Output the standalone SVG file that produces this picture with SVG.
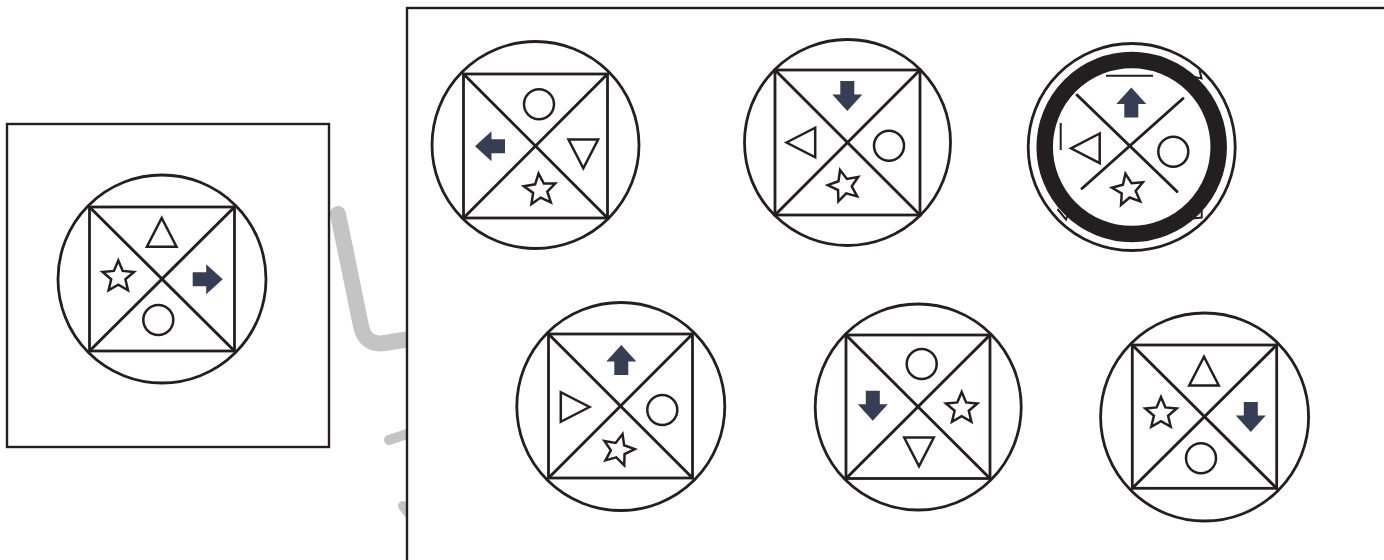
<svg xmlns="http://www.w3.org/2000/svg" xmlns:xlink="http://www.w3.org/1999/xlink" width="1384" height="560" viewBox="0 0 1384 560">
<style>
.frame{fill:#fff;stroke:#231f20;stroke-width:2.4}
.ring{fill:none;stroke:#231f20;stroke-width:2.8}
.sq{fill:none;stroke:#231f20;stroke-width:2.8}
.dg{stroke:#231f20;stroke-width:3;stroke-linecap:round}
.ol{fill:none;stroke:#231f20;stroke-width:2.5;stroke-linejoin:miter}
.arr{fill:#373d52}
.tick{fill:none;stroke:#231f20;stroke-width:2}
.wm{fill:none;stroke:#c4c4c4;stroke-linecap:round;stroke-linejoin:round}
</style>
<defs>
<path id="star" d="M0,-16.5 L4.4,-6.1 L15.7,-5.1 L7.1,2.3 L9.7,13.3 L0,7.6 L-9.7,13.3 L-7.1,2.3 L-15.7,-5.1 L-4.4,-6.1 Z"/>
<path id="tri" d="M0,-14.5 L14.8,14.2 L-14.8,14.2 Z"/>
<path id="arrow" d="M0,-15 L15,1.5 L7,1.5 L7,15 L-7,15 L-7,1.5 L-15,1.5 Z"/>
</defs>

<g id="watermark">
<path class="wm" stroke-width="16" stroke-linecap="butt" d="M338,214 L361,326 Q365,346 385,343 L410,339"/>
<path class="wm" stroke-width="10" d="M389,440 L410,433"/>
<path class="wm" stroke-width="10" d="M403,506 L410,515"/>
</g>

<rect id="given-frame" class="frame" x="7" y="124" width="322" height="323"/>
<rect id="options-frame" class="frame" x="407" y="8" width="1000" height="600"/>

<g id="given">
<circle class="ring" cx="162" cy="279" r="104"/>
<rect class="sq" x="89.5" y="207" width="145" height="144"/>
<line class="dg" x1="89.5" y1="207" x2="234.5" y2="351"/>
<line class="dg" x1="234.5" y1="207" x2="89.5" y2="351"/>
<use href="#tri" class="ol" transform="translate(161.7,232.5)"/>
<use href="#star" class="ol" transform="translate(118.3,277)"/>
<use href="#arrow" class="arr" transform="translate(207.7,279.2) rotate(90)"/>
<circle class="ol" cx="158.3" cy="320" r="15"/>
</g>

<g id="option-1">
<circle class="ring" cx="535.5" cy="145" r="103.5"/>
<rect class="sq" x="463.5" y="74" width="144" height="144"/>
<line class="dg" x1="463.5" y1="74" x2="607.5" y2="218"/>
<line class="dg" x1="607.5" y1="74" x2="463.5" y2="218"/>
<circle class="ol" cx="539" cy="104.3" r="15"/>
<use href="#arrow" class="arr" transform="translate(490,146.3) rotate(-90)"/>
<use href="#tri" class="ol" transform="translate(583.3,153.7) rotate(180)"/>
<use href="#star" class="ol" transform="translate(540,190) rotate(-5)"/>
</g>

<g id="option-2">
<circle class="ring" cx="847.5" cy="142.5" r="103"/>
<rect class="sq" x="775" y="70" width="145" height="145"/>
<line class="dg" x1="775" y1="70" x2="920" y2="215"/>
<line class="dg" x1="920" y1="70" x2="775" y2="215"/>
<use href="#arrow" class="arr" transform="translate(847.3,96) rotate(180)"/>
<use href="#tri" class="ol" transform="translate(801,142.5) rotate(-90)"/>
<circle class="ol" cx="889" cy="145.7" r="15"/>
<use href="#star" class="ol" transform="translate(844.3,186) rotate(-15)"/>
</g>

<g id="option-3">
<circle class="ring" cx="1131.7" cy="147" r="103.5"/>
<circle fill="none" stroke="#231f20" stroke-width="16.5" cx="1131.7" cy="147" r="87"/>
<line class="dg" x1="1077" y1="95" x2="1177" y2="191.5"/>
<line class="dg" x1="1183" y1="98.5" x2="1082" y2="188.5"/>
<line stroke="#231f20" stroke-width="2" x1="1106" y1="75.7" x2="1153" y2="75.7"/>
<line stroke="#231f20" stroke-width="2" x1="1060.7" y1="123" x2="1060.7" y2="150"/>
<polyline class="tick" points="1199.6,70.5 1201.5,78.5 1193.5,76.6"/>
<polyline class="tick" points="1201.7,203 1201.7,217.5 1187,219"/>
<polyline class="tick" points="1057.5,209 1066,219.5 1069,212"/>
<use href="#arrow" class="arr" transform="translate(1131.3,102.5)"/>
<use href="#tri" class="ol" transform="translate(1085.5,148.3) rotate(-90)"/>
<circle class="ol" cx="1173.3" cy="151.7" r="15"/>
<use href="#star" class="ol" transform="translate(1128.3,190) rotate(-10)"/>
</g>

<g id="option-4">
<circle class="ring" cx="620.8" cy="406.5" r="104"/>
<rect class="sq" x="548.5" y="334" width="144" height="144"/>
<line class="dg" x1="548.5" y1="334" x2="692.5" y2="478"/>
<line class="dg" x1="692.5" y1="334" x2="548.5" y2="478"/>
<use href="#arrow" class="arr" transform="translate(621.3,360)"/>
<use href="#tri" class="ol" transform="translate(575,407) rotate(90)"/>
<circle class="ol" cx="662.3" cy="410" r="15"/>
<use href="#star" class="ol" transform="translate(618.3,450) rotate(15)"/>
</g>

<g id="option-5">
<circle class="ring" cx="918.2" cy="407" r="103"/>
<rect class="sq" x="846" y="335" width="144" height="143.5"/>
<line class="dg" x1="846" y1="335" x2="990" y2="478.5"/>
<line class="dg" x1="990" y1="335" x2="846" y2="478.5"/>
<circle class="ol" cx="921.7" cy="364" r="15"/>
<use href="#arrow" class="arr" transform="translate(872.8,405.8) rotate(180)"/>
<use href="#star" class="ol" transform="translate(961.7,408.5)"/>
<use href="#tri" class="ol" transform="translate(919,451.7) rotate(180)"/>
</g>

<g id="option-6">
<circle class="ring" cx="1204.6" cy="417" r="104"/>
<rect class="sq" x="1132.3" y="345" width="144.4" height="143.3"/>
<line class="dg" x1="1132.3" y1="345" x2="1276.7" y2="488.3"/>
<line class="dg" x1="1276.7" y1="345" x2="1132.3" y2="488.3"/>
<use href="#tri" class="ol" transform="translate(1204,371.3)"/>
<use href="#star" class="ol" transform="translate(1161,413.5)"/>
<use href="#arrow" class="arr" transform="translate(1250.8,417) rotate(180)"/>
<circle class="ol" cx="1201" cy="458.3" r="15"/>
</g>
</svg>
